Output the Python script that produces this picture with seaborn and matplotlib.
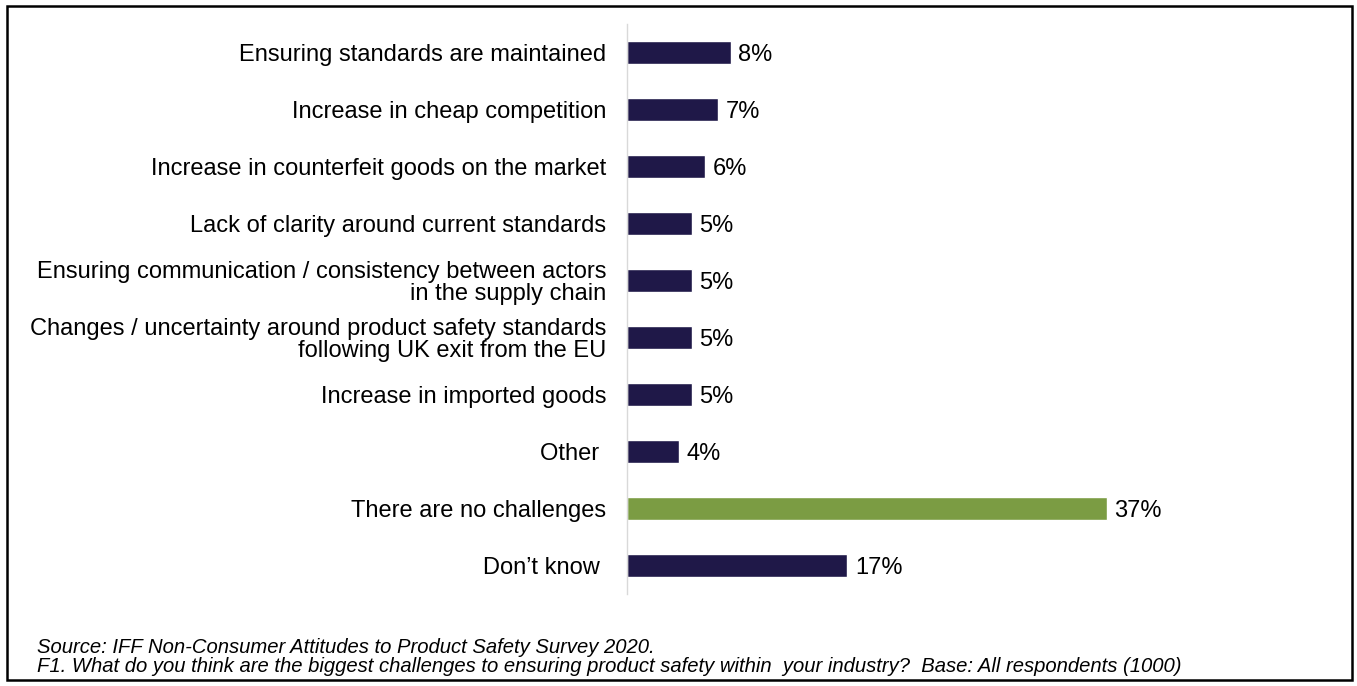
import matplotlib
matplotlib.use("Agg")
import matplotlib.pyplot as plt
from matplotlib.patches import Rectangle
import numpy as np
import pandas as pd
import seaborn as sns

categories = [
    "Ensuring standards are maintained",
    "Increase in cheap competition",
    "Increase in counterfeit goods on the market",
    "Lack of clarity around current standards",
    "Ensuring communication / consistency between actors\nin the supply chain",
    "Changes / uncertainty around product safety standards\nfollowing UK exit from the EU",
    "Increase in imported goods",
    "Other ",
    "There are no challenges",
    "Don\u2019t know ",
]
values = [8, 7, 6, 5, 5, 5, 5, 4, 37, 17]
groups = ["challenge"] * 8 + ["none", "challenge"]

source_note = "Source: IFF Non-Consumer Attitudes to Product Safety Survey 2020."
question_note = ("F1. What do you think are the biggest challenges to ensuring product safety "
                 "within  your industry?  Base: All respondents (1000)")

NAVY = "#1F1848"
GREEN = "#7B9C43"
FS = 17

sns.set_theme(style="white")
plt.rcParams["font.family"] = ["Liberation Sans", "DejaVu Sans"]

df = pd.DataFrame({"label": categories, "value": values, "group": groups})

fig = plt.figure(figsize=(13.57, 6.86), dpi=100)
ax = fig.add_axes([627 / 1357, 1 - 594 / 686, 674 / 1357, 570 / 686])

sns.barplot(data=df, x="value", y="label", hue="group",
            palette={"challenge": NAVY, "none": GREEN},
            order=categories, dodge=False, width=0.42, legend=False,
            saturation=1, ax=ax)

ax.set_xlim(0, 52)
ax.set_ylim(len(categories) - 0.5, -0.5)
ax.set_xlabel("")
ax.set_ylabel("")
ax.set_xticks([])

for sp in ["top", "right", "bottom"]:
    ax.spines[sp].set_visible(False)
ax.spines["left"].set_color("#D9D9D9")
ax.spines["left"].set_linewidth(1.0)

ax.tick_params(axis="y", which="major", length=0, pad=15, labelsize=FS,
               labelcolor="#000000")
ax.set_yticks(np.arange(-0.5, len(categories), 1.0), minor=True)
ax.tick_params(axis="y", which="minor", length=5, color="#D9D9D9", width=1.0)
for t in ax.get_yticklabels():
    t.set_horizontalalignment("right")
    t.set_multialignment("right")
    t.set_linespacing(0.98)

for i, v in enumerate(values):
    ax.annotate(f"{v}%", xy=(v, i), xytext=(5.5, -2), textcoords="offset points",
                ha="left", va="center", fontsize=FS, color="#000000")

fig.text(37 / 1357, 1 - 653 / 686, source_note, fontsize=14.6, style="italic",
         ha="left", va="baseline", color="#000000")
fig.text(37 / 1357, 1 - 672 / 686, question_note, fontsize=14.6, style="italic",
         ha="left", va="baseline", color="#000000")

fig.patches.append(Rectangle((7 / 1357, 1 - 680 / 686), (1352 - 7) / 1357,
                             (680 - 6) / 686, transform=fig.transFigure,
                             fill=False, edgecolor="#000000", linewidth=1.8))

fig.savefig("out.png", dpi=100, facecolor="white")
